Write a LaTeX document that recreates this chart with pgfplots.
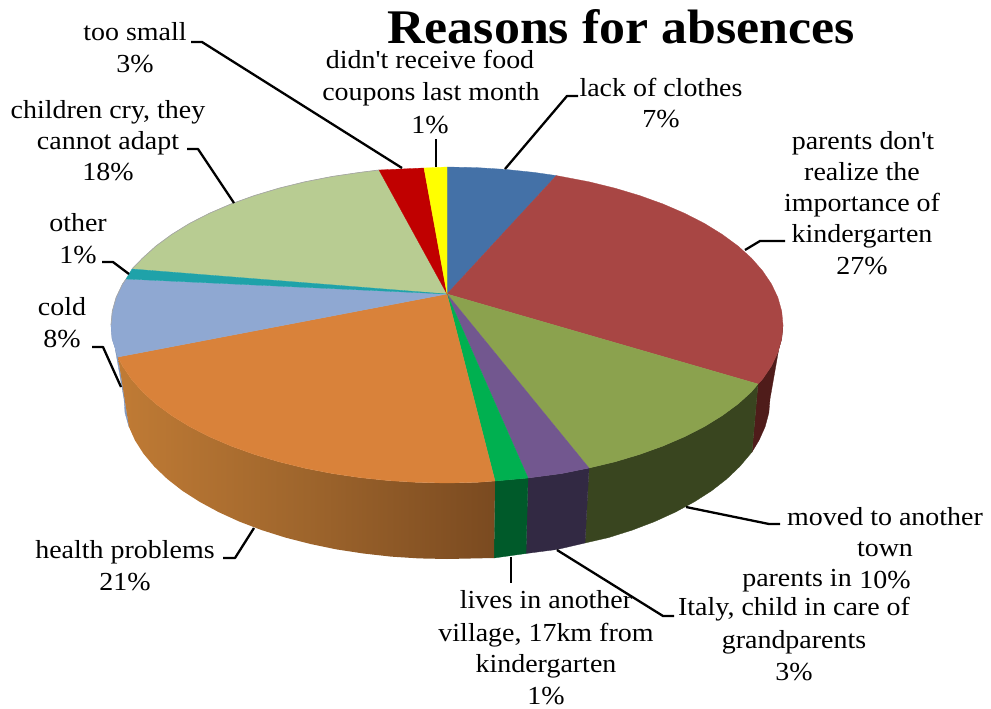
\documentclass[border=0pt]{standalone}
\usepackage{fontspec}
\newfontfamily\chartfont[FakeStretch=1.075]{Liberation Serif}
\usepackage{pgfplots}
\pgfplotsset{compat=1.18}
\definecolor{cBlue}{HTML}{4471A7}
\definecolor{cRed}{HTML}{A84644}
\definecolor{cGreen}{HTML}{8BA24E}
\definecolor{cPurple}{HTML}{72578F}
\definecolor{cBright}{HTML}{00B050}
\definecolor{cOrange}{HTML}{D9823A}
\definecolor{cSky}{HTML}{8FA8D2}
\definecolor{cTeal}{HTML}{1FA2A9}
\definecolor{cLime}{HTML}{B8CC92}
\definecolor{cCrimson}{HTML}{C00000}
\definecolor{cYellow}{HTML}{FFFF00}
\definecolor{sRed}{HTML}{4F1C1A}
\definecolor{sGreen}{HTML}{39451F}
\definecolor{sPurple}{HTML}{322943}
\definecolor{sBright}{HTML}{005A2A}
\definecolor{sSky}{HTML}{8198BE}
\definecolor{sideL}{HTML}{C07B35}
\definecolor{sideM}{HTML}{9E652C}
\definecolor{sideR}{HTML}{7A4A20}
\newcommand{\lab}[3]{\node[anchor=base,inner sep=0pt] at (axis cs:#1,#2) {#3};}
\pgfplotsset{leader/.style={black, no marks, line width=2.3pt, line join=round}}
\begin{document}
\begin{tikzpicture}
\useasboundingbox (0,0) rectangle (991pt,709pt);
\begin{axis}[
  at={(0,0)}, anchor=south west,
  width=991pt, height=709pt, scale only axis,
  xmin=0, xmax=991, ymin=0, ymax=709, y dir=reverse,
  hide axis, clip=false,
  every axis plot/.append style={forget plot, no marks, line width=0.3pt},
  nodes={font=\chartfont\fontsize{26}{30}\selectfont, text=black},
]
% side walls, back to front
\addplot[fill=sSky,draw=sSky] coordinates {(111,325)(112,339)(118,357)(129,427)(125,413)(124,399)} -- cycle;
\addplot[fill=sRed,draw=sRed] coordinates {(783,325)(781.7,338.8)(777.9,352.4)(771.5,365.9)(762.7,379)(758,384)(752,452)(759,440.4)(765.1,426.8)(768.8,413)(770,399)} -- cycle;
\addplot[fill=sGreen,draw=sGreen] coordinates {(758,384)(751.5,391.8)(738,404)(722.2,415.6)(704.4,426.6)(684.6,436.7)(663,446)(639.7,454.4)(615,461.8)(589,468)(585,543)(608.5,537.6)(632.3,530.1)(654.6,521.6)(675.4,512.1)(694.4,501.8)(711.6,490.8)(726.7,479)(739.7,466.6)(752,452)} -- cycle;
\addplot[fill=sPurple,draw=sPurple] coordinates {(589,468)(561.9,473.5)(528,478)(526,553.5)(557.5,549.4)(585,543)} -- cycle;
\addplot[fill=sBright,draw=sBright] coordinates {(528,478)(495,481)(494,558)(526,553.5)} -- cycle;
\addplot[left color=sideL, right color=sideR, middle color=sideM, draw=none] coordinates {(495,481)(476.3,482.4)(447,483)(417.7,482.4)(388.7,480.6)(360,477.6)(332.1,473.5)(305,468.2)(279,461.8)(254.3,454.4)(231,446)(209.4,436.7)(189.6,426.6)(171.8,415.6)(156,404)(142.5,391.8)(131.3,379)(122.5,365.9)(118,357)(129,427)(135,440.4)(143.5,453.7)(154.3,466.6)(167.3,479)(182.4,490.8)(199.6,501.8)(218.6,512.1)(239.4,521.6)(261.7,530.1)(285.5,537.6)(310.5,544)(336.5,549.4)(363.4,553.5)(390.9,556.6)(418.8,558.4)(447,559)(475.2,558.4)(494,558)} -- cycle;
% top face slices
\addplot[fill=cBlue,draw=cBlue] coordinates {(447,294)(447,167)(476.3,167.6)(505.3,169.4)(534,172.4)(556.4,175.6)} -- cycle;
\addplot[fill=cRed,draw=cRed] coordinates {(447,294)(556.4,175.6)(589,181.8)(615,188.2)(639.7,195.6)(663,204)(684.6,213.3)(704.4,223.4)(722.2,234.4)(738,246)(751.5,258.2)(762.7,271)(771.5,284.1)(777.9,297.6)(781.7,311.2)(783,325)(781.7,338.8)(777.9,352.4)(771.5,365.9)(762.7,379)(758,384)} -- cycle;
\addplot[fill=cGreen,draw=cGreen] coordinates {(447,294)(758,384)(751.5,391.8)(738,404)(722.2,415.6)(704.4,426.6)(684.6,436.7)(663,446)(639.7,454.4)(615,461.8)(589,468)} -- cycle;
\addplot[fill=cPurple,draw=cPurple] coordinates {(447,294)(589,468)(561.9,473.5)(528,478)} -- cycle;
\addplot[fill=cBright,draw=cBright] coordinates {(447,294)(528,478)(495,481)} -- cycle;
\addplot[fill=cOrange,draw=cOrange] coordinates {(447,294)(495,481)(476.3,482.4)(447,483)(417.7,482.4)(388.7,480.6)(360,477.6)(332.1,473.5)(305,468.2)(279,461.8)(254.3,454.4)(231,446)(209.4,436.7)(189.6,426.6)(171.8,415.6)(156,404)(142.5,391.8)(131.3,379)(122.5,365.9)(118,357)} -- cycle;
\addplot[fill=cSky,draw=cSky] coordinates {(447,294)(118,357)(112.3,338.8)(111,325)(112.3,311.2)(116.1,297.6)(122.5,284.1)(126,279)} -- cycle;
\addplot[fill=cLime,draw=cLime] coordinates {(447,294)(132,269)(142.5,258.2)(156,246)(171.8,234.4)(189.6,223.4)(209.4,213.3)(231,204)(254.3,195.6)(279,188.2)(305,181.8)(332.1,176.5)(360,172.4)(379,170)} -- cycle;
\addplot[fill=cTeal,draw=cTeal] coordinates {(447,294)(126,279)(132,269)} -- cycle;
\addplot[fill=cCrimson,draw=cCrimson] coordinates {(447,294)(379,170)(424,168)} -- cycle;
\addplot[fill=cYellow,draw=cYellow] coordinates {(447,294)(424,168)(447,167)} -- cycle;
% back rim highlight
\addplot[draw=black!35, line width=0.7pt] coordinates {(132,269)(142.5,258.2)(156,246)(171.8,234.4)(189.6,223.4)(209.4,213.3)(231,204)(254.3,195.6)(279,188.2)(305,181.8)(332.1,176.5)(360,172.4)(379,170)};
\addplot[draw=black!35, line width=0.7pt] coordinates {(126,279)(122.5,284.1)(116.1,297.6)(112.3,311.2)(111,325)};
% leader lines
\addplot[leader] coordinates {(191,42)(202,42)(402,168)};
\addplot[leader] coordinates {(436,139)(436,167)};
\addplot[leader] coordinates {(578,96)(567,96)(505,169)};
\addplot[leader] coordinates {(187,149)(198,149)(234,203)};
\addplot[leader] coordinates {(102,262)(113,262)(129,274)};
\addplot[leader] coordinates {(92,347)(103,347)(121,387)};
\addplot[leader] coordinates {(223,558)(235,558)(254,528)};
\addplot[leader] coordinates {(511,557)(511,583)};
\addplot[leader] coordinates {(557,550)(663,616)(674,616)};
\addplot[leader] coordinates {(686,507)(769,524)(780,524)};
\addplot[leader] coordinates {(745,250)(760,241)(785,241)};
% title and data labels
\node[anchor=base,inner sep=0pt,font=\chartfont\fontsize{48.3}{50}\selectfont\bfseries] at (axis cs:621,44) {Reasons for absences};
\lab{135}{41}{too small}
\lab{135}{73}{3\%}
\lab{430}{69}{didn't receive food}
\lab{431}{100}{coupons last month}
\lab{430}{133}{1\%}
\lab{661}{96}{lack of clothes}
\lab{661}{127}{7\%}
\lab{863}{149}{parents don't}
\lab{862}{180}{realize the}
\lab{862}{211}{importance of}
\lab{862}{242}{kindergarten}
\lab{862}{274}{27\%}
\lab{108}{118}{children cry, they}
\lab{108}{149}{cannot adapt}
\lab{108}{180}{18\%}
\lab{78}{231}{other}
\lab{78}{263}{1\%}
\lab{62}{315}{cold}
\lab{62}{347}{8\%}
\lab{125}{558}{health problems}
\lab{125}{590}{21\%}
\lab{885}{525}{moved to another}
\lab{885}{556}{town}
\lab{885}{588}{10\%}
\lab{797}{586}{parents in}
\lab{794}{615}{Italy, child in care of}
\lab{794}{648}{grandparents}
\lab{794}{680}{3\%}
\lab{546}{608}{lives in another}
\lab{546}{641}{village, 17km from}
\lab{546}{672}{kindergarten}
\lab{546}{704}{1\%}
\end{axis}
\end{tikzpicture}
\end{document}
